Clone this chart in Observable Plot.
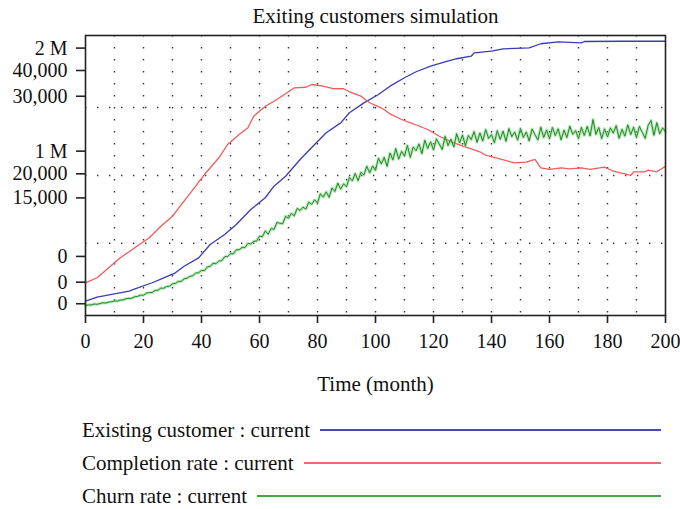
<!DOCTYPE html>
<html>
<head>
<meta charset="utf-8">
<script src="https://cdn.jsdelivr.net/npm/d3@7"></script>
<script src="https://cdn.jsdelivr.net/npm/@observablehq/plot@0.6"></script>
<style>
  html, body { margin: 0; padding: 0; background: #fff; }
  body { width: 680px; height: 509px; overflow: hidden; font-family: "Liberation Serif", "Times New Roman", serif; color: #111; }
  #legend { padding: 13.5px 19px 0 82px; box-sizing: border-box; width: 680px; }
  .row { display: flex; align-items: center; height: 33px; font-size: 21px; white-space: nowrap; }
  .row .ln { flex: 1; margin-left: 10px; height: 2px; }
</style>
</head>
<body>
<div id="chart"></div>
<div id="legend"></div>
<script>
// ---- labels ----
const title = "Exiting customers simulation";
const xLabel = "Time (month)";
const seriesNames = ["Existing customer : current", "Completion rate : current", "Churn rate : current"];
const seriesColors = ["#3b3bb0", "#f25a5a", "#2f9a35"];
const legendColors = ["#4848b8", "#f26b6b", "#45a545"];
// full-scale maximum of each series' own axis
const seriesMax = [2000000, 40000, 30000];

// ---- axis ticks ----
const xTicks = [0, 20, 40, 60, 80, 100, 120, 140, 160, 180, 200];
const xGrid = [10, 20, 30, 40, 50, 60, 70, 80, 90, 100, 110, 120, 130, 140, 150, 160, 170, 180, 190];
// stacked Vensim-style tick labels (position as share of the axis height)
const yTickLabels = ["2 M", "40,000", "30,000", "1 M", "20,000", "15,000", "0", "0", "0"];
const yTickAt = [0.955, 0.875, 0.783, 0.587, 0.506, 0.420, 0.211, 0.119, 0.042];
const yGrid = [0.258, 0.5, 0.743];

// ---- Existing customer ----
const existingT = [0,4,10,15,18,23,27,31,34,39,43,48,52,57,62,65,69,74,79,83,88,91,96,101,105,110,114,119,124,128,133,134,140,144,153,157,163,171,172,185,200];
const existingV = [102000,131000,155000,174000,198000,234000,269000,305000,352000,412000,507000,579000,650000,757000,841000,924000,995000,1114000,1221000,1305000,1376000,1448000,1519000,1579000,1638000,1698000,1741000,1781000,1812000,1834000,1852000,1876000,1888000,1905000,1912000,1941000,1955000,1948000,1957000,1959000,1959000];

// ---- Completion rate ----
const completionT = [0,4,8,12,17,22,26,30,34,38,41,46,49,53,56,58,62,65,69,72,76,78,82,85,89,91,95,98,102,105,109,113,118,122,127,132,136,138,148,152,155,157,160,164,167,171,174,179,182,186,188,189,193,194,197,200];
const completionV = [4670,5390,6810,8240,9670,11100,12760,14190,16330,18470,20140,22530,24430,25860,26810,28470,29900,30610,31670,32530,32610,33000,32760,32430,32390,31960,31330,30390,29670,28810,28000,27390,26570,25610,24670,23960,23390,22900,21810,21900,22290,21100,20860,21100,20960,21100,20860,21190,20610,20240,20000,20530,20530,20760,20530,21330];

// ---- Churn rate (monthly, t = 0..200) ----
const churnV = [
  1070,1140,1130,1230,1200,1280,1360,1330,1440,1460,
  1570,1540,1650,1670,1800,1830,1860,2010,2050,2180,
  2170,2400,2450,2460,2690,2710,2940,2920,3110,3140,
  3400,3440,3650,3650,3930,3990,4200,4260,4550,4580,
  4830,4800,5210,5260,5610,5540,5850,5870,6300,6310,
  6630,6600,7040,7040,7300,7290,7720,7660,7960,7970,
  8500,8450,9070,8700,9320,9230,9960,9890,9840,10620,
  10420,10940,10680,11480,11250,11610,11400,12150,11900,12400,
  12060,13050,12680,13250,12660,13660,13290,14190,13540,14110,
  13790,14800,14420,15210,14450,15350,15040,15990,15280,16020,
  15550,16850,16230,16940,15980,17410,16680,17880,16750,17580,
  17100,18220,16940,18060,17660,18380,17340,18780,17900,18610,
  17730,18930,18370,17790,19200,18210,18900,18070,19480,18490,
  19340,18190,19280,18850,19700,18550,19560,18700,19920,18970,
  19380,18520,19810,18870,19760,18660,20030,19160,19660,18790,
  20030,19080,19650,18700,19990,19360,18810,20180,19070,19880,
  18930,20140,19270,20000,18810,19860,19070,20280,19410,19820,
  18950,20160,19290,20260,19230,21000,19410,20140,18950,20000,
  19130,20100,19540,20340,18980,19940,19220,20420,19380,20180,
  19060,20260,19620,18980,20340,20900,19300,20660,19460,20100,
  19700
];
const churnT = churnV.map((_, i) => i);

// ---- build tables ----
const existing = existingT.map((t, i) => ({t, share: existingV[i] / seriesMax[0]}));
const completion = completionT.map((t, i) => ({t, share: completionV[i] / seriesMax[1]}));
const churn = churnT.map((t, i) => ({t, share: churnV[i] / seriesMax[2]}));
const tickLabel = new Map(yTickAt.map((v, i) => [v, yTickLabels[i]]));

const chart = Plot.plot({
  width: 680,
  height: 400,
  marginTop: 35,
  marginBottom: 85,
  marginLeft: 85,
  marginRight: 15,
  style: {fontFamily: "'Liberation Serif', 'Times New Roman', serif", fontSize: "20px", color: "#111", background: "#fff"},
  x: {domain: [0, 200]},
  y: {domain: [0, 1]},
  marks: [
    Plot.ruleX(xGrid, {stroke: "#333", strokeWidth: 1.4, strokeDasharray: "1.4,10.6"}),
    Plot.ruleY(yGrid, {stroke: "#333", strokeWidth: 1.4, strokeDasharray: "1.4,10.6"}),
    Plot.line(existing, {x: "t", y: "share", stroke: seriesColors[0], strokeWidth: 1.3}),
    Plot.line(completion, {x: "t", y: "share", stroke: seriesColors[1], strokeWidth: 1.3}),
    Plot.line(churn, {x: "t", y: "share", stroke: "#7fd07f", strokeWidth: 3, strokeOpacity: 0.55}),
    Plot.line(churn, {x: "t", y: "share", stroke: "#1f8a26", strokeWidth: 1.0}),
    Plot.frame({stroke: "#222", strokeWidth: 1.6}),
    Plot.axisX({ticks: xTicks, tickSize: 8, tickPadding: 10, fontSize: 20, label: null, stroke: "#222", strokeWidth: 1.6}),
    Plot.axisY({ticks: yTickAt, tickFormat: d => tickLabel.get(d), tickSize: 9, tickPadding: 9, fontSize: 20, label: null, stroke: "#222", strokeWidth: 1.6}),
    Plot.text([title], {frameAnchor: "top", dy: -13, lineAnchor: "bottom", fontSize: 21, fill: "#111"}),
    Plot.text([xLabel], {frameAnchor: "bottom", dy: 75, lineAnchor: "bottom", fontSize: 21, fill: "#111"})
  ]
});
document.getElementById("chart").appendChild(chart);

const legend = document.getElementById("legend");
seriesNames.forEach((name, i) => {
  const row = document.createElement("div");
  row.className = "row";
  const s = document.createElement("span");
  s.textContent = name;
  const ln = document.createElement("div");
  ln.className = "ln";
  ln.style.backgroundColor = legendColors[i];
  row.appendChild(s);
  row.appendChild(ln);
  legend.appendChild(row);
});
</script>
</body>
</html>
